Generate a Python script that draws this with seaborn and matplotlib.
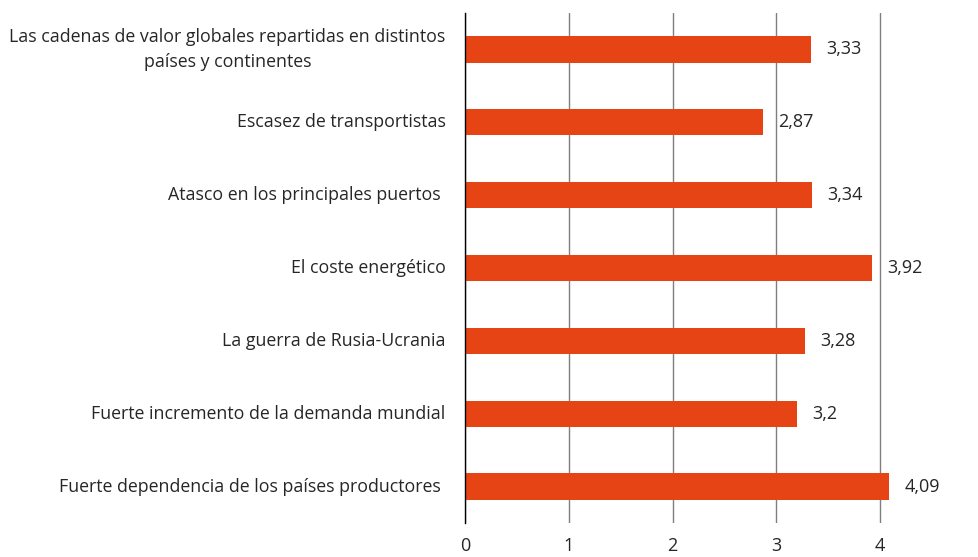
import matplotlib
matplotlib.use("Agg")
import matplotlib.pyplot as plt
import seaborn as sns
import pandas as pd

categories = [
    "Las cadenas de valor globales repartidas en distintos\npaíses y continentes",
    "Escasez de transportistas",
    "Atasco en los principales puertos ",
    "El coste energético",
    "La guerra de Rusia-Ucrania",
    "Fuerte incremento de la demanda mundial",
    "Fuerte dependencia de los países productores ",
]
values = [3.33, 2.87, 3.34, 3.92, 3.28, 3.2, 4.09]
value_labels = ["3,33", "2,87", "3,34", "3,92", "3,28", "3,2", "4,09"]
x_ticks = [0, 1, 2, 3, 4]

sns.set_theme(style="white")
plt.rcParams['font.family'] = ['Open Sans', 'DejaVu Sans']
text_color = "#262626"

df = pd.DataFrame({"cat": categories, "val": values})

fig = plt.figure(figsize=(9.79, 5.57), dpi=100)
ax = fig.add_axes([465/979, 1-523/557, (932-465)/979, (523-13)/557])

sns.barplot(data=df, x="val", y="cat", color="#E64415", saturation=1,
            width=0.36, ax=ax, zorder=3)

for p in ax.patches:
    p.set_edgecolor("none")

texts = ax.bar_label(ax.containers[0], labels=value_labels, padding=11,
                     fontsize=13, color=text_color)
for t in texts:
    t.set_va("center")

ax.set_xlim(0, 4.5)
ax.set_ylim(6.5, -0.5)
ax.set_xticks(x_ticks)
ax.set_xticklabels([str(t) for t in x_ticks])
ax.xaxis.grid(True, color="#7f7f7f", linewidth=1, zorder=0)
ax.yaxis.grid(False)
ax.set_xlabel("")
ax.set_ylabel("")
for s in ["top", "right", "bottom"]:
    ax.spines[s].set_visible(False)
ax.spines["left"].set_color("#000000")
ax.spines["left"].set_linewidth(1)
ax.spines["left"].set_zorder(4)

ax.tick_params(axis="x", length=0, pad=10, labelsize=13, labelcolor=text_color)
ax.tick_params(axis="y", length=0, pad=14, labelsize=12.8, labelcolor=text_color)
for lbl in ax.get_yticklabels():
    lbl.set_multialignment("center")
    lbl.set_linespacing(1.45)
    lbl.set_va("center")

fig.savefig("out.png", dpi=100)
